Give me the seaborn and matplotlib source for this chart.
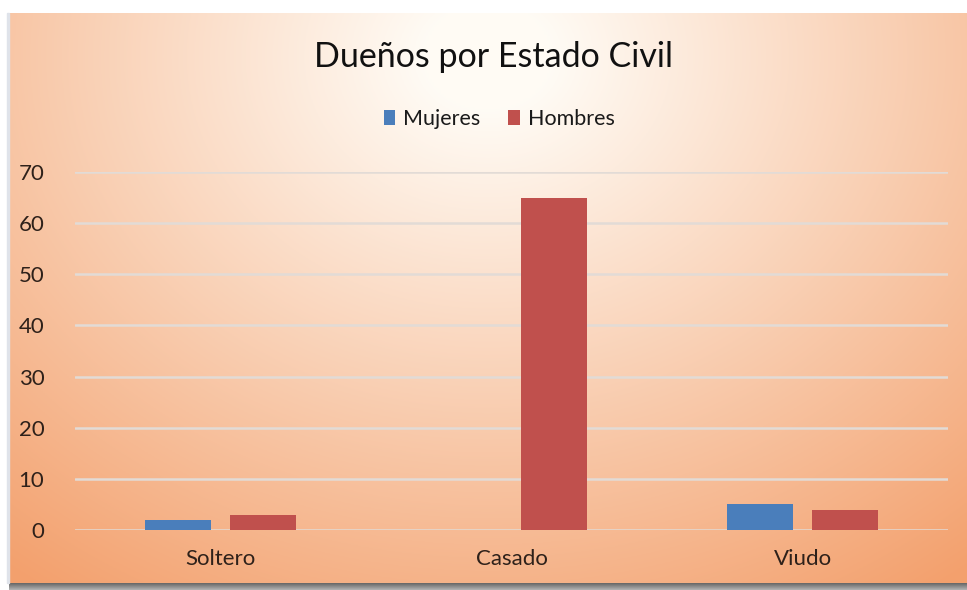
import matplotlib
matplotlib.use("Agg")
import matplotlib.pyplot as plt
import numpy as np
import pandas as pd
import seaborn as sns

# Values
estados = ["Soltero", "Casado", "Viudo"]
mujeres = [2, 0, 5]
hombres = [3, 65, 4]
y_ticks = [0, 10, 20, 30, 40, 50, 60, 70]

df = pd.DataFrame({
    "Estado": estados * 2,
    "Valor": mujeres + hombres,
    "Sexo": ["Mujeres"] * len(estados) + ["Hombres"] * len(estados),
})

sns.set_theme(style="white")
plt.rcParams['font.family'] = ['Lato', 'DejaVu Sans']

W, H = 967, 590
fig = plt.figure(figsize=(W / 100, H / 100), dpi=100)
fig.patch.set_facecolor("white")

# Panel with soft radial orange gradient (lightest at top centre)
px0, py0, px1, py1 = 9, 13, 967, 583
bg = fig.add_axes([px0 / W, 1 - py1 / H, (px1 - px0) / W, (py1 - py0) / H], zorder=0)
gx, gy = np.meshgrid(np.linspace(-1, 1, 400), np.linspace(-1, 1, 300))
r = np.sqrt((gx / 1.35) ** 2 + ((gy + 0.85) / 1.9) ** 2)
t = np.clip((r - 0.1) / 1.1, 0, 1)
light = np.array([1.0, 0.985, 0.96])
dark = np.array([0.953, 0.63, 0.43])
img = light[None, None, :] * (1 - t[..., None]) + dark[None, None, :] * t[..., None]
bg.imshow(img, aspect="auto", extent=[0, 1, 0, 1], origin="upper")
bg.set_xlim(0, 1)
bg.set_ylim(0, 1)
bg.axis("off")

# grey shadow under the panel and thin left border
sh = fig.add_axes([px0 / W, 0, (px1 - px0) / W, (H - py1) / H], zorder=0)
shade = np.linspace(0.4, 0.7, 20)[:, None, None] * np.ones((20, 10, 3))
sh.imshow(shade, aspect="auto", extent=[0, 1, 0, 1], origin="upper")
sh.axis("off")
fig.patches.append(plt.Rectangle((px0 / W - 2 / W, 1 - py1 / H), 2 / W, (py1 - py0) / H,
                                 transform=fig.transFigure, color="#dfe3ea", zorder=0.5))

ax = fig.add_axes([75 / W, 1 - 530 / H, (948 - 75) / W, (530 - 172) / H], zorder=2)
ax.patch.set_alpha(0)

sns.barplot(data=df, x="Estado", y="Valor", hue="Sexo", order=estados,
            palette={"Mujeres": "#4a7ebb", "Hombres": "#c0504d"},
            width=0.58, gap=0.22, saturation=1, linewidth=0, ax=ax, legend=True, zorder=3)

ax.set_xlim(-0.5, 2.5)
ax.set_ylim(0, 70)
ax.set_yticks(y_ticks)
for v in y_ticks:
    ax.axhline(v, color="#e2dbd6", lw=1.8, zorder=1)
ax.set_xlabel("")
ax.set_ylabel("")
for s in ax.spines.values():
    s.set_visible(False)
ax.tick_params(axis="both", length=0, labelsize=16, colors="#2e211a")
ax.tick_params(axis="x", pad=14)
ax.tick_params(axis="y", pad=22)

handles, labels = ax.get_legend_handles_labels()
ax.legend(handles, labels, loc="center", bbox_to_anchor=(499 / W, 1 - 119 / H),
          bbox_transform=fig.transFigure, ncol=2, frameon=False, fontsize=15.5,
          handlelength=0.55, handleheight=0.7, handletextpad=0.35, columnspacing=1.3,
          labelcolor="#1a1a1a")

fig.text(494 / W, 1 - 57 / H, "Dueños por Estado Civil", ha="center", va="center",
         fontsize=24.5, color="#111111")

fig.savefig("out.png", dpi=100)
